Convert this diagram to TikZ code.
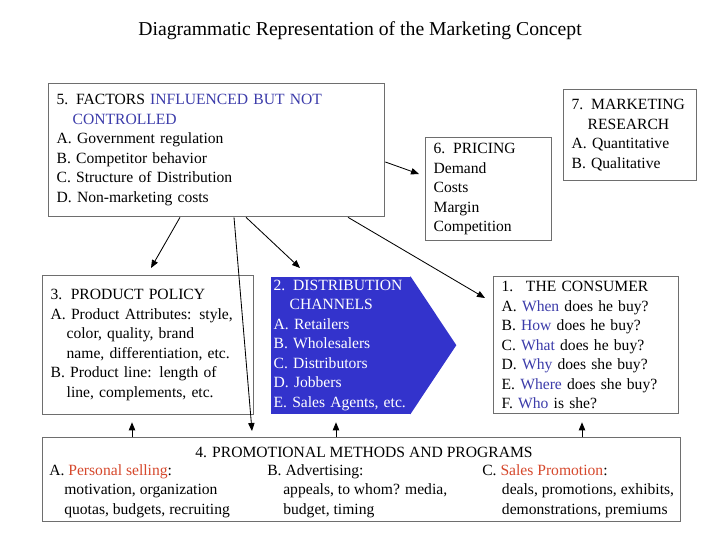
\documentclass[tikz,border=0pt]{standalone}
\usepackage{fontspec}
\setmainfont{Liberation Serif}
\usetikzlibrary{arrows.meta,positioning,calc}
\definecolor{azul}{RGB}{60,60,170}
\definecolor{azulfondo}{RGB}{51,51,204}
\definecolor{rojo}{RGB}{214,72,44}
\definecolor{borde}{RGB}{110,110,110}
\newcommand{\az}[1]{\textcolor{azul}{#1}}
\newcommand{\rj}[1]{\textcolor{rojo}{#1}}
\newcommand{\sangria}{\hspace*{11.4pt}}
\tikzset{
  caja/.style={rectangle, draw=borde, line width=0.9pt, align=left, anchor=north west,
               font=\fontsize{11.1}{13.9}\selectfont, inner xsep=0.2cm, inner ysep=0pt},
  canal/.style={caja, draw=none, fill=azulfondo, text=white, inner xsep=0.075cm},
  texto/.style={align=left, inner sep=0pt, anchor=west, font=\fontsize{11.1}{13.9}\selectfont},
  flecha/.style={-{Triangle[length=2mm,width=1.6mm]}, line width=0.6pt},
  titulo/.style={font=\fontsize{14}{16}\selectfont, inner sep=0pt}
}

\begin{document}
\begin{tikzpicture}[x=0.025cm,y=-0.025cm]
\fill[white] (0,0) rectangle (720,540);
\node[titulo] (tit) at (360,31) {Diagrammatic Representation of the Marketing Concept};

\node[caja, text width=8cm, minimum height=3.325cm] (fac) at (48,83)
  {5. FACTORS \az{INFLUENCED BUT NOT}\\ \sangria\az{CONTROLLED}\\ A. Government regulation\\
   B. Competitor behavior\\ C. Structure of Distribution\\ D. Non-marketing costs};
\node[caja, text width=2.75cm, minimum height=2.575cm] (pri) at (425,137)
  {6. PRICING\\ Demand\\ Costs\\ Margin\\ Competition};
\node[caja, text width=2.925cm, minimum height=2.275cm] (res) at (563,89)
  {7. MARKETING\\ \sangria RESEARCH\\ A. Quantitative\\ B. Qualitative};

\node[caja, text width=4.875cm, minimum height=3.475cm] (prod) at (42,275)
  {3.\hspace{6pt}PRODUCT POLICY\\ A. Product Attributes: style,\\ \sangria color, quality, brand\\
   \sangria name, differentiation, etc.\\ B. Product line: length of\\ \sangria line, complements, etc.};
\node[canal, text width=3.35cm, minimum height=3.425cm] (dist) at (270,276)
  {2. DISTRIBUTION\\ \sangria CHANNELS\\ A. Retailers\\ B. Wholesalers\\ C. Distributors\\
   D. Jobbers\\ E. Sales Agents, etc.};
\fill[azulfondo] ($(dist.north east)+(-1,0)$) -- ($(dist.east)+(45,0)$) -- ($(dist.south east)+(-1,0)$) -- cycle;
\node[caja, text width=4.225cm, minimum height=3.425cm] (cons) at (493,276)
  {1.\hspace{9pt}THE CONSUMER\\ A. \az{When} does he buy?\\ B. \az{How} does he buy?\\
   C. \az{What} does he buy?\\ D. \az{Why} does she buy?\\ E. \az{Where} does she buy?\\ F. \az{Who} is she?};

% promotional box
\node[caja, minimum width=15.95cm, minimum height=2.1cm] (prom) at (42,437) {};
\node[texto, anchor=center] (prom0) at ($(prom.north west)+(322,15)$) {4. PROMOTIONAL METHODS AND PROGRAMS};
\node[texto] (promA) at ($(prom.north west)+(7,54)$)
  {A. \rj{Personal selling}:\\ \hspace*{10.7pt}motivation, organization\\ \hspace*{10.7pt}quotas, budgets, recruiting};
\node[texto] (promB) at ($(prom.north west)+(225,54)$)
  {B. Advertising:\\ \hspace*{11.4pt}appeals, to whom? media,\\ \hspace*{11.4pt}budget, timing};
\node[texto] (promC) at ($(prom.north west)+(440,54)$)
  {C. \rj{Sales Promotion}:\\ \hspace*{14pt}deals, promotions, exhibits,\\ \hspace*{14pt}demonstrations, premiums};

\draw[flecha] ($(fac.north east)+(0,79)$) -- ($(pri.north west)+(-6,37)$);
\draw[flecha] ($(fac.south west)+(132,0)$) -- ($(prod.north west)+(109,-7)$);
\draw[flecha] ($(fac.south west)+(186,0)$) -- ($(prom.north west)+(210,-6)$);
\draw[flecha] ($(fac.south west)+(198,0)$) -- ($(dist.north west)+(30,-8)$);
\draw[flecha] ($(fac.south west)+(300,0)$) -- ($(cons.north west)+(-8,22)$);
\draw[flecha] ($(prom.north west)+(90,0)$) -- ($(prod.south west)+(90,7)$);
\draw[flecha] ($(prom.north west)+(294,0)$) -- ($(dist.south west)+(66,8)$);
\draw[flecha] ($(prom.north west)+(540,0)$) -- ($(cons.south west)+(89,8)$);
\end{tikzpicture}
\end{document}
